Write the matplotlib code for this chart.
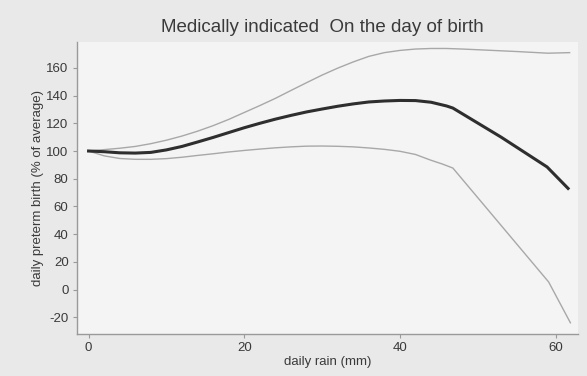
import matplotlib
matplotlib.use("Agg")
import matplotlib.pyplot as plt

# main estimate
rain_est = [0, 2, 4, 6, 8, 10, 12, 14, 16, 18, 20, 22, 24, 26, 28, 30, 32, 34, 36, 38,
            40, 42, 44, 46, 46.8, 53, 58.9, 61.6]
est = [100, 99.5, 98.7, 98.5, 99, 100.8, 103.3, 106.5, 109.8, 113.3, 116.8, 120, 123,
       125.7, 128.2, 130.3, 132.3, 134, 135.4, 136.1, 136.5, 136.4, 135.2, 132.5, 131,
       110, 88.5, 73]

# upper confidence bound
rain_up = [0, 2, 4, 6, 8, 10, 12, 14, 16, 18, 20, 22, 24, 26, 28, 30, 32, 34, 36, 38,
           40, 42, 44, 46, 48, 50, 55, 59, 61.8]
upper = [100, 101, 102, 103.3, 105.3, 107.8, 110.8, 114.3, 118.3, 122.8, 127.8, 132.8,
         138, 143.7, 149.3, 154.8, 159.8, 164.3, 168.3, 171, 172.6, 173.6, 174, 174,
         173.6, 173.1, 171.8, 170.6, 171]

# lower confidence bound
rain_lo = [0, 2, 4, 6, 8, 10, 12, 14, 16, 18, 20, 22, 24, 26, 28, 30, 32, 34, 36, 38,
           40, 42, 43.9, 45.5, 46.8, 59.1, 61.9]
lower = [100, 96.5, 94.6, 94, 94, 94.5, 95.5, 96.8, 98, 99.3, 100.4, 101.4, 102.3, 103,
         103.5, 103.6, 103.4, 103, 102.2, 101.2, 99.8, 97.5, 93.5, 90.5, 87.7, 5.5, -24]

xticks = [0, 20, 40, 60]
yticks = [-20, 0, 20, 40, 60, 80, 100, 120, 140, 160]

plt.rcParams['font.family'] = ['Liberation Sans', 'DejaVu Sans']
plt.rcParams['axes.unicode_minus'] = False

fig = plt.figure(figsize=(5.87, 3.76), dpi=100)
fig.patch.set_facecolor('#e9e9e9')
ax = fig.add_axes([0.131, 0.112, 0.854, 0.776])
ax.set_facecolor('#f4f4f4')

ax.plot(rain_up, upper, color='#a8a8a8', lw=1.0)
ax.plot(rain_lo, lower, color='#a8a8a8', lw=1.0)
ax.plot(rain_est, est, color='#2e2e2e', lw=2.2)

ax.set_xlim(-1.5, 62.9)
ax.set_ylim(-32, 178.6)
ax.set_xticks(xticks)
ax.set_yticks(yticks)
for s in ['top', 'right']:
    ax.spines[s].set_visible(False)
for s in ['left', 'bottom']:
    ax.spines[s].set_color('#9a9a9a')
    ax.spines[s].set_linewidth(1.0)
ax.tick_params(axis='both', colors='#9a9a9a', labelcolor='#3a3a3a', labelsize=9.5,
               length=3, width=0.8, pad=3)

ax.set_xlabel('daily rain (mm)', fontsize=9.5, color='#3a3a3a', labelpad=1)
ax.set_ylabel('daily preterm birth (% of average)', fontsize=9.5, color='#3a3a3a', labelpad=2)
fig.text(0.55, 0.927, 'Medically indicated  On the day of birth', ha='center', va='center',
         fontsize=13.5, color='#3a3a3a')

fig.savefig('out.png', dpi=100, facecolor=fig.get_facecolor())
